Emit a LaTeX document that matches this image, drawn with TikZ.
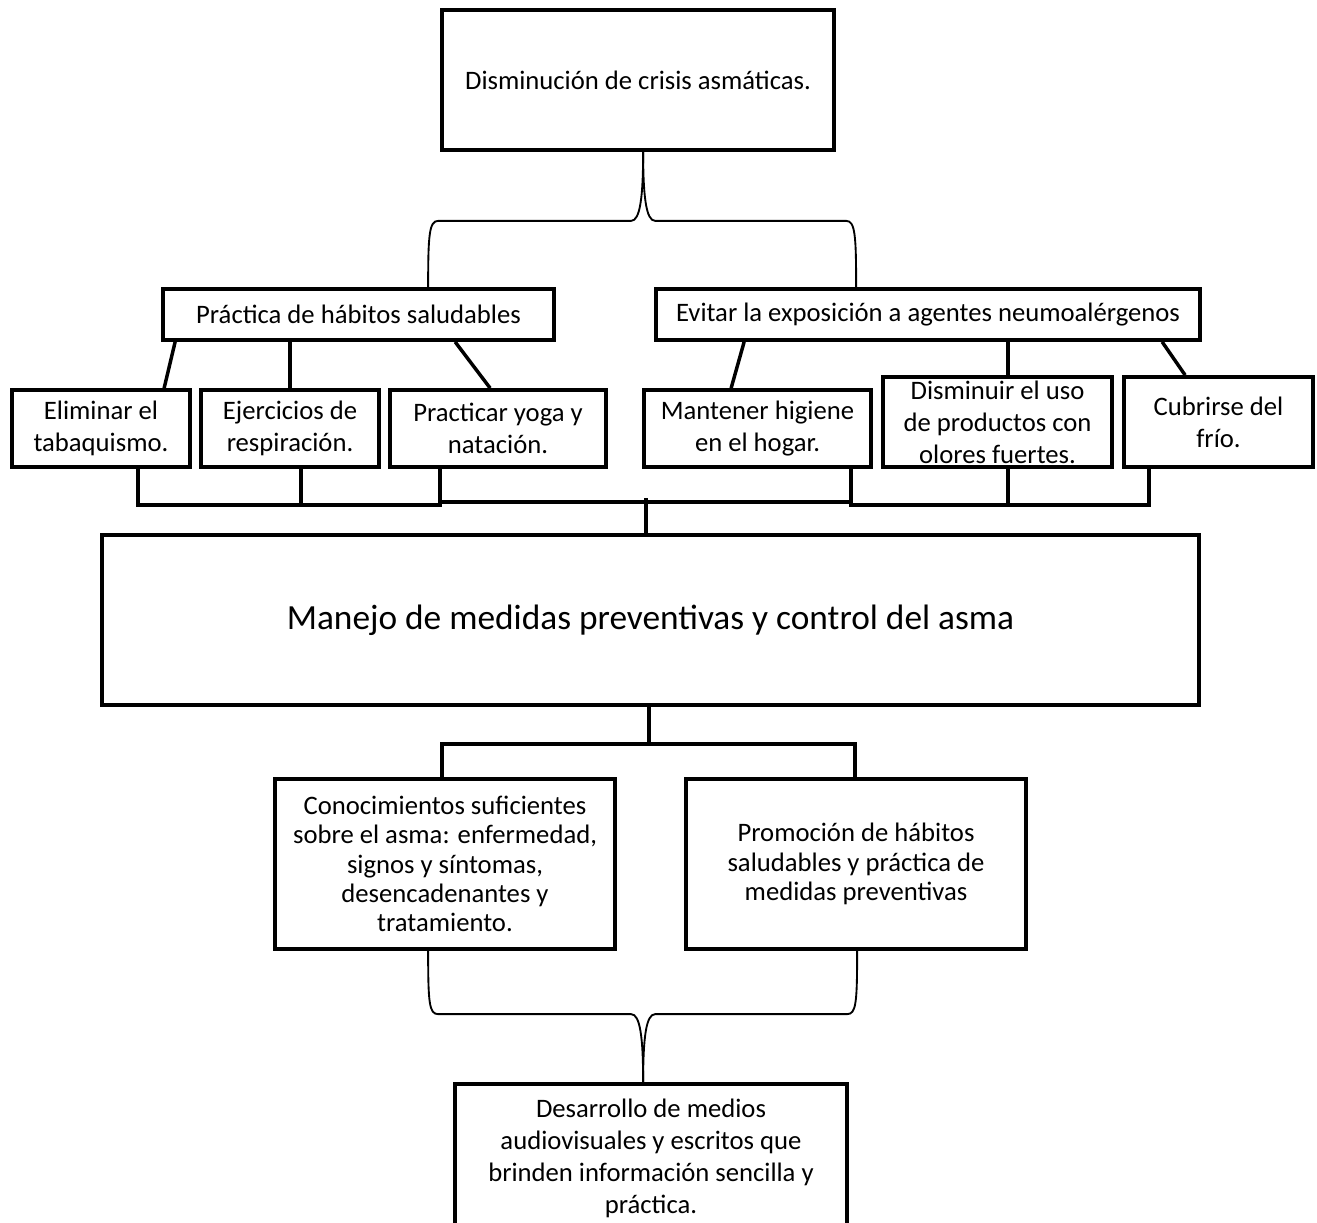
\documentclass[tikz,border=0pt]{standalone}
\usepackage{fontspec}
\setmainfont{Carlito}
\usetikzlibrary{calc}
\begin{document}
\begin{tikzpicture}[x=0.75pt,y=-0.75pt,
  bx/.style n args={2}{draw,line width=2.8pt,align=center,inner sep=0pt,
     minimum width={#1*0.75pt},minimum height={#2*0.75pt}},
  sm/.style={font=\fontsize{20}{24}\selectfont},
  md/.style={font=\fontsize{20}{22}\selectfont},
  conn/.style={line width=2.6pt},
  brace/.style={line width=1.4pt}]
\useasboundingbox (0,0) rectangle (1317,1222);
\fill[white] (0,0) rectangle (1317,1222);

\node[bx={392}{140},sm] (top) at (638,80) {Disminución de crisis asmáticas.};
\node[bx={391}{51},sm] (prac) at (358.5,314.5) {Práctica de hábitos saludables};
\node[bx={544}{51},sm] (evit) at (928,314.5) {Evitar la exposición a agentes neumoalérgenos};
\node[bx={178}{77},sm] (elim) at (101,428.5) {Eliminar el\\tabaquismo.};
\node[bx={178}{77},sm] (ejer) at (290,428.5) {Ejercicios de\\respiración.};
\node[bx={216}{77},sm] (pract) at (498,428.5) {Practicar yoga y\\natación.};
\node[bx={227}{77},sm] (mant) at (757.5,428.5) {Mantener higiene\\en el hogar.};
\node[bx={229}{90},sm] (dism) at (997.5,422) {Disminuir el uso\\de productos con\\olores fuertes.};
\node[bx={189}{90},sm] (cubr) at (1218.5,422) {Cubrirse del\\frío.};
\node[bx={1097}{170},font=\fontsize{26.5}{30}\selectfont] (manejo) at (650.5,620) {Manejo de medidas preventivas y control del asma};
\node[bx={340}{170},md] (cono) at (445,864) {Conocimientos suficientes\\sobre el asma: enfermedad,\\signos y síntomas,\\desencadenantes y\\tratamiento.};
\node[bx={340}{170},md] (prom) at (856,864) {Promoción de hábitos\\saludables y práctica de\\medidas preventivas};
\node[bx={392}{148},sm] (desa) at (651,1158) {Desarrollo de medios\\audiovisuales y escritos que\\brinden información sencilla y\\práctica.};

% top brace
\coordinate (tbL) at ($(prac.north west)+(267,0)$);
\coordinate (tbR) at ($(evit.north west)+(202,0)$);
\coordinate (tbT) at ($(top.south west)+(203,0)$);
\coordinate (tbM) at ($(tbT)+(0,69)$);
\draw[brace] (tbL) .. controls +(0,-52) and +(-9,0) .. ($(tbL |- tbM)+(10,0)$) -- ($(tbM)+(-12,0)$) .. controls +(9,0) and +(0,45) .. (tbT);
\draw[brace] (tbT) .. controls +(0,45) and +(-9,0) .. ($(tbM)+(12,0)$) -- ($(tbR |- tbM)+(-10,0)$) .. controls +(9,0) and +(0,-52) .. (tbR);

% second-level links
\draw[conn] ($(prac.south west)+(14,0)$) -- ($(elim.north west)+(154,0)$);
\draw[conn] (ejer.north) -- (ejer.north |- prac.south);
\draw[conn] ($(prac.south west)+(294,0)$) -- ($(pract.north west)+(102,0)$);
\draw[conn] ($(evit.south west)+(90,0)$) -- ($(mant.north west)+(89,0)$);
\draw[conn] ($(dism.north west)+(127,0)$) -- ($(dism.north west)+(127,-37)$);
\draw[conn] ($(evit.south west)+(508,0)$) -- ($(cubr.north west)+(63,0)$);

% buses to big box
\draw[conn] ($(elim.south west)+(128,0)$) -- ++(0,36) -| ($(pract.south west)+(52,0)$);
\draw[conn] ($(ejer.south west)+(102,0)$) -- ++(0,36);
\draw[conn] ($(pract.south west)+(52,0)$) -- ++(0,33) -| ($(mant.south west)+(209,0)$);
\draw[conn] ($(mant.south west)+(209,0)$) -- ++(0,36) -| ($(cubr.south west)+(27,0)$);
\draw[conn] ($(dism.south west)+(127,0)$) -- ++(0,36);
\draw[conn] ($(manejo.north west)+(546,3)$) -- ++(0,-38);

% big box to lower boxes
\draw[conn] ($(manejo.south west)+(549,0)$) -- ++(0,37) coordinate (j2);
\draw[conn] ($(cono.north west)+(169,0)$) |- (j2) -| ($(prom.north west)+(171,0)$);

% bottom brace
\coordinate (bbL) at ($(cono.south west)+(155,0)$);
\coordinate (bbR) at ($(prom.south west)+(173,0)$);
\coordinate (bbT) at ($(desa.north west)+(190,0)$);
\coordinate (bbM) at ($(bbT)+(0,-68)$);
\draw[brace] (bbL) .. controls +(0,52) and +(-9,0) .. ($(bbL |- bbM)+(10,0)$) -- ($(bbM)+(-12,0)$) .. controls +(9,0) and +(0,-45) .. (bbT);
\draw[brace] (bbT) .. controls +(0,-45) and +(-9,0) .. ($(bbM)+(12,0)$) -- ($(bbR |- bbM)+(-10,0)$) .. controls +(9,0) and +(0,52) .. (bbR);
\end{tikzpicture}
\end{document}
